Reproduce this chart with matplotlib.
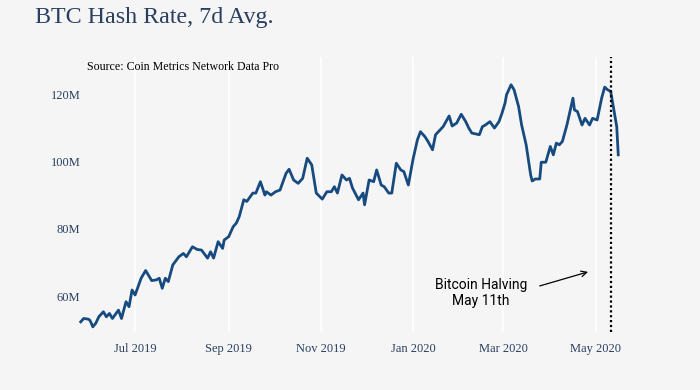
import matplotlib.pyplot as plt
import matplotlib.dates as mdates
import pandas as pd

# hash rate, 7d average (millions TH/s)
dates = [
    "2019-05-26", "2019-05-28", "2019-05-31", "2019-06-01", "2019-06-02", "2019-06-03",
    "2019-06-05", "2019-06-07", "2019-06-10", "2019-06-12", "2019-06-14", "2019-06-16",
    "2019-06-20", "2019-06-22", "2019-06-25", "2019-06-27", "2019-06-29", "2019-07-01",
    "2019-07-05", "2019-07-08", "2019-07-12", "2019-07-15", "2019-07-17", "2019-07-19",
    "2019-07-21", "2019-07-23", "2019-07-26", "2019-07-30", "2019-08-02", "2019-08-04",
    "2019-08-08", "2019-08-11", "2019-08-14", "2019-08-18", "2019-08-20", "2019-08-22",
    "2019-08-25", "2019-08-28", "2019-08-29", "2019-09-01", "2019-09-04", "2019-09-06",
    "2019-09-08", "2019-09-11", "2019-09-13", "2019-09-17", "2019-09-19", "2019-09-22",
    "2019-09-25", "2019-09-26", "2019-09-29", "2019-10-02", "2019-10-05", "2019-10-09",
    "2019-10-11", "2019-10-14", "2019-10-17", "2019-10-20", "2019-10-23", "2019-10-26",
    "2019-10-29", "2019-11-02", "2019-11-05", "2019-11-08", "2019-11-10", "2019-11-12",
    "2019-11-15", "2019-11-18", "2019-11-20", "2019-11-22", "2019-11-26", "2019-11-29",
    "2019-11-30", "2019-12-03", "2019-12-06", "2019-12-08", "2019-12-11", "2019-12-13",
    "2019-12-16", "2019-12-18", "2019-12-21", "2019-12-24", "2019-12-26", "2019-12-29",
    "2020-01-01", "2020-01-04", "2020-01-06", "2020-01-09", "2020-01-11", "2020-01-14",
    "2020-01-16", "2020-01-21", "2020-01-25", "2020-01-27", "2020-01-30", "2020-02-02",
    "2020-02-05", "2020-02-07", "2020-02-09", "2020-02-14", "2020-02-16", "2020-02-18",
    "2020-02-21", "2020-02-24", "2020-02-27", "2020-02-29", "2020-03-02", "2020-03-03",
    "2020-03-06", "2020-03-08", "2020-03-11", "2020-03-13", "2020-03-16", "2020-03-17",
    "2020-03-19", "2020-03-20", "2020-03-22", "2020-03-25", "2020-03-26", "2020-03-29",
    "2020-04-01", "2020-04-03", "2020-04-05", "2020-04-07", "2020-04-09", "2020-04-12",
    "2020-04-14", "2020-04-16", "2020-04-17", "2020-04-19", "2020-04-22", "2020-04-24",
    "2020-04-27", "2020-04-29", "2020-05-02", "2020-05-05", "2020-05-07", "2020-05-09",
    "2020-05-11", "2020-05-14", "2020-05-15", "2020-05-16",
]
hash_rate = [
    52.3, 53.3, 53.1, 52.8, 51.9, 50.8,
    51.9, 53.8, 55.3, 53.8, 54.8, 53.3,
    55.8, 53.3, 58.3, 56.8, 61.8, 60.3,
    65.3, 67.6, 64.6, 64.8, 65.3, 62.3,
    65.3, 64.3, 69.3, 71.7, 72.7, 71.7,
    74.7, 73.9, 73.7, 71.3, 73.2, 71.3,
    76.2, 74.2, 76.7, 77.7, 80.7, 81.7,
    83.7, 88.7, 88.2, 90.7, 90.7, 94.1,
    90.1, 91.1, 90.1, 91.1, 91.6, 96.6,
    97.8, 94.6, 93.6, 95.1, 101.1, 99.1,
    90.7, 88.9, 91.1, 91.1, 92.6, 90.7,
    96.1, 94.6, 95.1, 92.2, 88.7, 90.7,
    87.2, 94.6, 94.1, 97.6, 93.1, 92.6,
    90.7, 90.7, 99.6, 97.6, 97.1, 93.1,
    100.6, 106.6, 109.0, 107.5, 106.1, 103.6,
    108.1, 110.5, 113.7, 110.7, 111.6, 114.2,
    112.0, 110.1, 108.6, 108.1, 110.5, 111.0,
    112.0, 110.1, 112.0, 114.5, 117.5, 120.0,
    123.0, 121.5, 116.5, 111.0, 105.1, 102.1,
    96.1, 94.3, 94.9, 94.9, 99.9, 99.9,
    104.6, 102.1, 105.6, 105.1, 106.1, 111.0,
    115.0, 119.0, 115.5, 115.0, 111.0, 113.0,
    111.0, 113.0, 112.5, 119.0, 122.3, 121.5,
    121.0, 113.0, 110.5, 102.1,
]
halving_date = "2020-05-11"
y_ticks = [60, 80, 100, 120]
y_labels = ["60M", "80M", "100M", "120M"]

df = pd.DataFrame({"date": pd.to_datetime(dates), "hash_rate": hash_rate})

bg = "#f5f5f5"
txt = "#2a3f5f"

fig = plt.figure(figsize=(7, 3.9), dpi=100, facecolor=bg)
ax = fig.add_axes([0.111, 0.149, 0.783, 0.705], facecolor=bg)

ax.plot(df["date"], df["hash_rate"], color="#174a7e", linewidth=2.0)

halving = pd.Timestamp(halving_date)
ax.axvline(halving, color="black", linestyle=(0, (1, 1.2)), linewidth=1.6)

# label and arrow pointing at the halving line
ax.text(pd.Timestamp("2020-02-15"), 60.9, "Bitcoin Halving\nMay 11th",
        ha="center", va="center", fontsize=10, family="Roboto",
        linespacing=1.15)
ax.annotate(
    "",
    xy=(pd.Timestamp("2020-04-26"), 67.2),
    xytext=(pd.Timestamp("2020-03-25"), 63.0),
    arrowprops=dict(arrowstyle="->", color="black", lw=0.9,
                    shrinkA=0, shrinkB=0),
)

ax.set_xlim(pd.Timestamp("2019-05-24"), pd.Timestamp("2020-05-21"))
ax.set_ylim(49.3, 131.3)
ax.set_yticks(y_ticks)
ax.set_yticklabels(y_labels)
ax.xaxis.set_major_locator(mdates.MonthLocator(bymonth=[1, 3, 5, 7, 9, 11]))
ax.xaxis.set_major_formatter(mdates.DateFormatter("%b %Y"))

ax.grid(axis="x", color="white", linewidth=1.2)
ax.grid(axis="y", visible=False)
ax.set_axisbelow(True)
for s in ax.spines.values():
    s.set_visible(False)
ax.tick_params(length=0, labelsize=9, labelcolor=txt, pad=8)
ax.tick_params(axis="y", pad=-2)
for lab in ax.get_xticklabels() + ax.get_yticklabels():
    lab.set_family("Liberation Serif")

fig.text(0.05, 0.94, "BTC Hash Rate, 7d Avg.", fontsize=17.3, color=txt,
         family="Liberation Serif", va="baseline")
fig.text(0.124, 0.829, "Source: Coin Metrics Network Data Pro", fontsize=8.6,
         color="black", family="Liberation Serif", va="center")

fig.savefig("out.png", dpi=100, facecolor=bg)
